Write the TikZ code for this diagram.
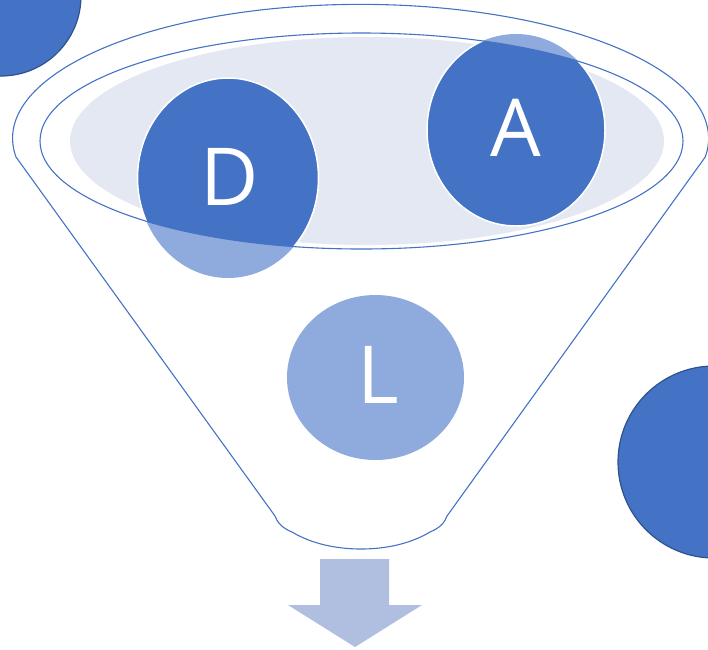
\documentclass[tikz,border=0pt]{standalone}
\usepackage{fontspec}
\setmainfont{Open Sans}
\definecolor{acc}{HTML}{4472C4}
\definecolor{accl}{HTML}{8FAADC}
\definecolor{accd}{HTML}{2F528F}
\definecolor{pale}{HTML}{E3E8F3}
\definecolor{arr}{HTML}{B0BEE0}
\tikzset{
  funnelline/.style={draw=acc, line width=1.1pt},
  letter/.style={text=white, font=\fontsize{80}{80}\selectfont, inner sep=0pt, anchor=base},
  ballfar/.style={fill=acc, draw=accd, line width=1.2pt},
}
\begin{document}
\begin{tikzpicture}[x=1pt,y=-1pt]
\useasboundingbox (0,0) rectangle (708,649);
% decorative circles
\path[ballfar] (1,-4) circle[radius=80];
\path[ballfar] (714,462) circle[radius=96];
% funnel outline
\draw[funnelline, line join=round]
  (16,157) arc[start angle=172, end angle=368, x radius=348, y radius=134]
  -- (447,516) .. controls (445,522) and (440,528) .. (430,532)
  .. controls (410,544) and (385,549) .. (361,549)
  .. controls (337,549) and (312,544) .. (292,532)
  .. controls (282,528) and (277,522) .. (275,516) -- cycle;
% pale inner fill
\fill[pale] (367,141) ellipse[x radius=297, y radius=104];
% light parts of circles
\fill[accl] (228,178) ellipse[x radius=90.5, y radius=100];
\fill[accl] (516,130) ellipse[x radius=89, y radius=96];
% dark parts inside inner ellipse
\begin{scope}
  \clip (361.5,141) ellipse[x radius=321.5, y radius=108];
  \path[fill=acc, draw=white, line width=1.5pt] (228,178) ellipse[x radius=90.5, y radius=100];
  \path[fill=acc, draw=white, line width=1.5pt] (516,130) ellipse[x radius=89, y radius=96];
\end{scope}
\draw[funnelline] (361.5,141) ellipse[x radius=321.5, y radius=108];
% L circle
\fill[accl] (375.5,377.5) ellipse[x radius=88.5, y radius=82.5];
% letters
\node[letter] (d) at (229.5,205) {D};
\node[letter] (a) at (516,156) {A};
\node[letter] (l) at (378,403) {L};
% arrow
\fill[arr] (320,559) -- (389,559) -- (389,605) -- (422,605) -- (355,647) -- (288,605) -- (320,605) -- cycle;
\end{tikzpicture}
\end{document}
